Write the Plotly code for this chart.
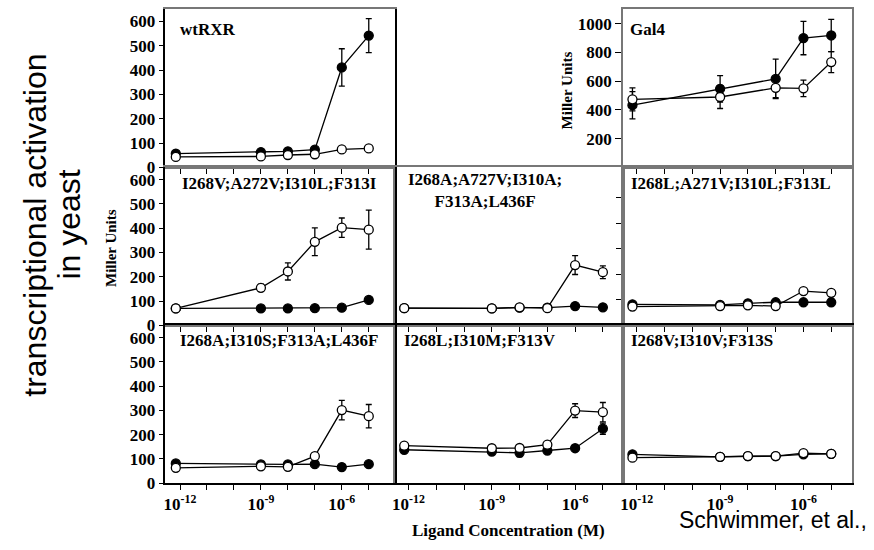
import plotly.graph_objects as go

# ---------------- data ----------------
conc6 = [7e-13, 1e-9, 1e-8, 1e-7, 1e-6, 1e-5]
conc5 = [7e-13, 1e-9, 1e-7, 1e-6, 1e-5]

wt_filled = [57, 63, 66, 73, 411, 542]
wt_filled_err = [0, 0, 0, 0, 77, 70]
wt_open = [43, 45, 51, 54, 74, 78]
wt_open_err = [0, 0, 0, 0, 0, 0]

gal4_filled = [433, 547, 616, 900, 918]
gal4_filled_err = [95, 92, 137, 116, 112]
gal4_open = [474, 490, 554, 550, 733]
gal4_open_err = [80, 80, 68, 57, 73]

m1_filled = [70, 70, 70, 71, 73, 105]
m1_filled_err = [0, 0, 0, 0, 0, 0]
m1_open = [70, 155, 222, 344, 402, 394]
m1_open_err = [0, 15, 35, 57, 40, 80]

m2_filled = [68, 67, 70, 70, 76, 71]
m2_filled_err = [0, 0, 0, 0, 0, 0]
m2_open = [68, 67, 71, 68, 237, 209]
m2_open_err = [0, 0, 0, 0, 37, 25]

m3_filled = [83, 81, 87, 91, 91, 91]
m3_filled_err = [0, 0, 0, 0, 0, 0]
m3_open = [74, 76, 79, 76, 135, 128]
m3_open_err = [0, 0, 0, 0, 0, 0]

m4_filled = [81, 77, 77, 78, 66, 78]
m4_filled_err = [0, 0, 0, 0, 0, 0]
m4_open = [63, 69, 67, 111, 301, 276]
m4_open_err = [0, 0, 0, 12, 40, 48]

m5_filled = [131, 124, 119, 128, 137, 214]
m5_filled_err = [0, 0, 15, 0, 0, 22]
m5_open = [147, 137, 138, 151, 285, 279]
m5_open_err = [12, 0, 0, 0, 27, 38]

m6_filled = [113, 103, 106, 106, 113, 115]
m6_filled_err = [0, 0, 0, 0, 0, 0]
m6_open = [100, 103, 106, 106, 118, 115]
m6_open_err = [0, 0, 0, 0, 0, 0]

panel_labels = ["wtRXR", "Gal4", "I268V;A272V;I310L;F313I",
                "I268A;A727V;I310A;<br>F313A;L436F", "I268L;A271V;I310L;F313L",
                "I268A;I310S;F313A;L436F", "I268L;I310M;F313V", "I268V;I310V;F313S"]

xtick_vals = [1e-12, 1e-11, 1e-10, 1e-9, 1e-8, 1e-7, 1e-6, 1e-5]
xtick_text = ["10<sup>-12</sup>", "", "", "10<sup>-9</sup>", "", "", "10<sup>-6</sup>", ""]
ytick_vals = [0, 100, 200, 300, 400, 500, 600]
gal4_ytick_vals = [200, 400, 600, 800, 1000]

# ---------------- layout geometry ----------------
W, H = 874, 550
col_px = [(163, 393), (393, 622), (622, 852)]
row_px = [(9.5, 170.5), (170.5, 331.5), (331.5, 492)]
xr_cols = [[-12.54, -4.04], [-12.5, -4.28], [-12.5, -4.25]]

def xd(c):
    a, b = col_px[c]
    return [a / W, b / W]

def yd(r):
    a, b = row_px[r]
    return [1 - b / H, 1 - a / H]

SERIF = "Liberation Serif"
fig = go.Figure()

panels = [
    (0, 0, conc6, wt_filled, wt_filled_err, wt_open, wt_open_err, [0, 650]),
    (0, 2, conc5, gal4_filled, gal4_filled_err, gal4_open, gal4_open_err, [0, 1100]),
    (1, 0, conc6, m1_filled, m1_filled_err, m1_open, m1_open_err, [0, 650]),
    (1, 1, conc6, m2_filled, m2_filled_err, m2_open, m2_open_err, [0, 620]),
    (1, 2, conc6, m3_filled, m3_filled_err, m3_open, m3_open_err, [0, 620]),
    (2, 0, conc6, m4_filled, m4_filled_err, m4_open, m4_open_err, [0, 650]),
    (2, 1, conc6, m5_filled, m5_filled_err, m5_open, m5_open_err, [0, 620]),
    (2, 2, conc6, m6_filled, m6_filled_err, m6_open, m6_open_err, [0, 620]),
]

layout_axes = {}
for i, (r, c, xs, fy, fe, oy, oe, yr) in enumerate(panels):
    n = i + 1
    xa = "x" if n == 1 else f"x{n}"
    ya = "y" if n == 1 else f"y{n}"
    for ys, es, fill in [(fy, fe, "black"), (oy, oe, "white")]:
        fig.add_trace(go.Scatter(
            x=xs, y=ys, xaxis=xa, yaxis=ya, mode="lines+markers",
            line=dict(color="black", width=1.3),
            marker=dict(symbol="circle", size=9, color=fill,
                        line=dict(color="black", width=1.3)),
            error_y=dict(type="data", array=es, visible=True,
                         color="black", thickness=1.3, width=3),
            showlegend=False, cliponaxis=False, hoverinfo="skip"))
    bottom = (r == 2)
    xaxis = dict(
        domain=xd(c), anchor=ya, type="log", range=xr_cols[c],
        tickmode="array", tickvals=xtick_vals,
        ticktext=xtick_text if bottom else [""] * len(xtick_vals),
        showticklabels=bottom, ticks="outside", ticklen=5, tickwidth=1.2,
        tickcolor="black", showline=True, mirror=True, linewidth=1.5,
        linecolor="black" if bottom else "#777", showgrid=False, zeroline=False,
        tickfont=dict(family=SERIF, size=17, color="black", weight="bold"),
    )
    if c == 0:
        yticks = dict(tickmode="array", tickvals=ytick_vals, ticks="outside",
                      showticklabels=True, ticklen=5)
    elif r == 0 and c == 2:
        yticks = dict(tickmode="array", tickvals=gal4_ytick_vals, ticks="outside",
                      showticklabels=True, ticklen=6)
    elif r == 1 and c == 2:
        yticks = dict(tickmode="array", tickvals=[100, 200, 300, 400, 500], ticks="outside",
                      showticklabels=False, ticklen=5)
    else:
        yticks = dict(ticks="", showticklabels=False)
    yaxis = dict(
        domain=yd(r), anchor=xa, range=yr, showline=True, mirror=True,
        linewidth=1.5, linecolor="black" if c == 0 else "#777",
        showgrid=False, zeroline=False, tickcolor="black", tickwidth=1.2,
        tickfont=dict(family=SERIF, size=17, color="black", weight="bold"),
        **yticks)
    key = "" if n == 1 else str(n)
    layout_axes["xaxis" + key] = xaxis
    layout_axes["yaxis" + key] = yaxis

fig.update_layout(**layout_axes)

# ---------------- annotations ----------------
def ann(text, x, y, size, family=SERIF, bold=True, xanchor="left", yanchor="middle", angle=0):
    fig.add_annotation(
        text=text, x=x / W, y=1 - y / H, xref="paper", yref="paper",
        xanchor=xanchor, yanchor=yanchor, showarrow=False, textangle=angle,
        font=dict(family=family, size=size, color="black",
                  weight="bold" if bold else "normal"))

ann(panel_labels[0], 176, 30, 17)
ann(panel_labels[1], 627, 30, 17)
ann(panel_labels[2], 277, 187, 17, xanchor="center")
ann(panel_labels[3], 484, 194, 17, xanchor="center")
ann(panel_labels[4], 628, 187, 17)
ann(panel_labels[5], 277, 347, 17, xanchor="center")
ann(panel_labels[6], 400, 347, 17)
ann(panel_labels[7], 628, 347, 17)

ann("Miller Units", 109, 253, 15, xanchor="center", angle=-90)
ann("Miller Units", 566, 92, 15, xanchor="center", angle=-90)
ann("Ligand Concentration (M)", 507, 540, 17, xanchor="center")
ann("transcriptional activation", 32, 229, 32,
    family="Liberation Sans", bold=False, xanchor="center", angle=-90)
ann("in yeast", 66, 229, 32,
    family="Liberation Sans", bold=False, xanchor="center", angle=-90)
ann("Schwimmer, et al.,", 676, 530, 23, family="Liberation Sans", bold=False)

fig.update_layout(
    width=W, height=H, margin=dict(l=0, r=0, t=0, b=0, pad=0),
    paper_bgcolor="white", plot_bgcolor="white", showlegend=False,
    hovermode=False,
)

fig.write_html("out.html", config={"displayModeBar": False},
               post_script="document.body.style.margin='0';")
